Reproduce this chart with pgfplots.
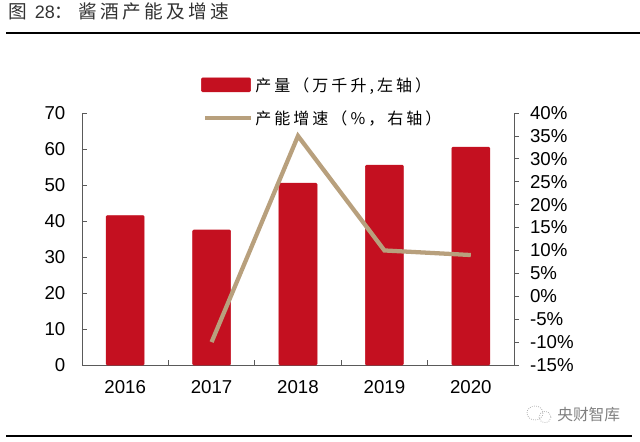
\documentclass[border=0pt]{standalone}
\usepackage{pgfplots}
\pgfplotsset{compat=1.18}
\usepackage{fontspec}
\setmainfont{Liberation Sans}
\newfontfamily\cjk{Noto Sans CJK SC}
\newfontfamily\cjkT[LetterSpace=18]{Noto Sans CJK SC}
\newfontfamily\cjkL[LetterSpace=19]{Noto Sans CJK SC}
\definecolor{barred}{RGB}{196,16,32}
\definecolor{tan}{RGB}{184,160,125}
\definecolor{axisgray}{RGB}{90,90,90}
\definecolor{titlegray}{RGB}{50,50,50}
\begin{document}
\begin{tikzpicture}[x=0.75pt,y=-0.75pt]
\path[use as bounding box] (0,0) rectangle (640,442);
\draw[black,line width=1.1pt] (6,33) -- (640,33);
\draw[black,line width=1.1pt] (6,436) -- (632,436);
\node[anchor=west,inner sep=0pt,text=titlegray,font=\fontsize{13.5}{16}\selectfont] at (8,11.5) {{\cjk\fontsize{14}{16}\selectfont 图}\hspace{6pt}28{\cjk ：}\hspace{4pt}{\cjkT\fontsize{14}{16}\selectfont 酱酒产能及增速}};
\node[anchor=west,inner sep=0pt,text=gray,font=\cjk\fontsize{11.8}{13}\selectfont] at (557,415) {央财智库};
\draw[gray!60,densely dotted,line width=0.6pt] (535,413) ellipse (8 and 7);
\draw[gray!60,densely dotted,line width=0.6pt] (545,417) ellipse (6 and 5.5);
\coordinate (O) at (82,365);
\begin{axis}[
  at={(O)},anchor=south west,
  scale only axis,width=324pt,height=189pt,
  xmin=-0.5,xmax=4.5,ymin=0,ymax=70,
  axis y line*=left,axis x line*=bottom,
  axis line style={axisgray,line width=0.7pt},
  xtick={-0.5,0.5,1.5,2.5,3.5,4.5},xticklabels={},
  extra x ticks={0,1,2,3,4},extra x tick labels={2016,2017,2018,2019,2020},
  extra x tick style={major tick length=0pt,tick style={draw=none}},
  ytick={0,10,...,70},
  tick style={axisgray,line width=0.6pt},
  major tick length=3.5pt,
  tick align=inside,
  tick label style={font=\fontsize{14}{16}\selectfont,text=black},
  /pgf/number format/assume math mode=true,
  yticklabel style={xshift=-9pt},
  xticklabel style={yshift=-8pt},
  clip=false,
]
\addplot[ybar,bar width=28.5pt,fill=barred,draw=barred,bar shift=0pt,rounded corners=0.8pt] coordinates {(0,41.5)(1,37.5)(2,50.5)(3,55.5)(4,60.5)};
\end{axis}
\begin{axis}[
  at={(O)},anchor=south west,
  scale only axis,width=324pt,height=189pt,
  xmin=-0.5,xmax=4.5,ymin=-15,ymax=40,
  axis y line*=right,axis x line=none,
  axis line style={axisgray,line width=0.7pt},
  ytick={-15,-10,...,40},
  yticklabel={\pgfmathprintnumber{\tick}\%},
  tick style={axisgray,line width=0.6pt},
  major tick length=3.5pt,
  tick align=outside,
  tick label style={font=\fontsize{14}{16}\selectfont,text=black},
  /pgf/number format/assume math mode=true,
  yticklabel style={xshift=5pt},
  clip=false,
  legend style={at={(0.275,1.044)},anchor=west,draw=none,fill=none,inner sep=0pt,
    font=\cjkL\fontsize{12}{14}\selectfont,row sep=9pt,
    /tikz/every even column/.append style={column sep=6pt}},
  legend cell align=left,
]
\addlegendimage{area legend,fill=barred,draw=barred,rounded corners=1pt,/pgfplots/legend image code/.code={\fill[barred,rounded corners=1pt] (0cm,-0.17cm) rectangle (1.3cm,0.2cm);}}
\addlegendentry{产量（万千升,左轴）}
\addlegendimage{/pgfplots/legend image code/.code={\draw[tan,line width=3pt] (0.1cm,0cm) -- (1.3cm,0cm);}}
\addlegendentry{产能增速（\%，右轴）}
\addplot[tan,line width=3.2pt,line join=miter,forget plot] coordinates {(1,-10)(2,35)(3,10)(4,9)};
\end{axis}
\end{tikzpicture}
\end{document}
